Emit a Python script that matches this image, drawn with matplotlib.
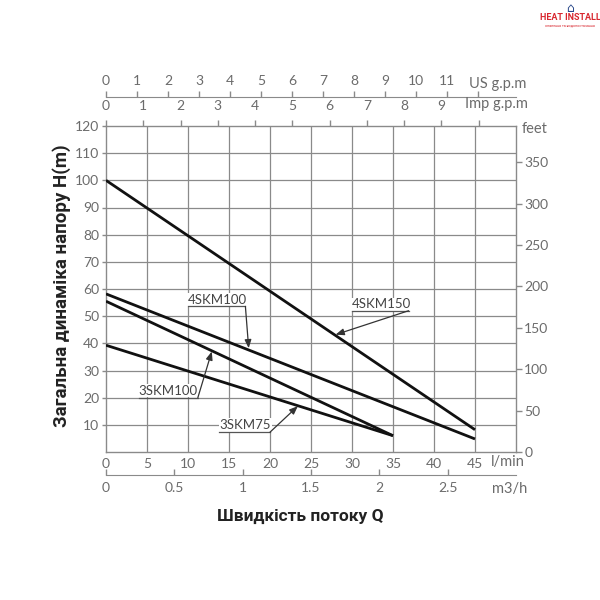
import matplotlib
matplotlib.use("Agg")
import matplotlib.pyplot as plt
import numpy as np

# ---- data ----
flow_4skm150 = [0, 45]
head_4skm150 = [100, 8.2]
flow_4skm100 = [0, 45]
head_4skm100 = [58.2, 4.8]
flow_3skm100 = [0, 35]
head_3skm100 = [55.5, 6.0]
flow_3skm75 = [0, 35]
head_3skm75 = [39.3, 6.0]

lpm_ticks = [0, 5, 10, 15, 20, 25, 30, 35, 40, 45]
head_ticks = [10, 20, 30, 40, 50, 60, 70, 80, 90, 100, 110, 120]
feet_ticks = [0, 50, 100, 150, 200, 250, 300, 350]
us_ticks = list(range(0, 13))
us_labels = [str(i) for i in range(0, 12)] + [""]
imp_ticks = list(range(0, 11))
imp_labels = [str(i) for i in range(0, 10)] + [""]
m3h_ticks = [0, 0.5, 1, 1.5, 2, 2.5]
m3h_labels = ["0", "0.5", "1", "1.5", "2", "2.5"]

US_GAL = 3.785
IMP_GAL = 4.546
M3H = 1000 / 60.0
FT = 3.281

TICK_COLOR = "#6b6b6b"
GRID_COLOR = "#8a8a8a"
tfont = dict(family=["Lato", "DejaVu Sans"], size=10, color=TICK_COLOR)

fig = plt.figure(figsize=(6, 6), dpi=100)
L, R, B, T = 106 / 600, 516 / 600, 1 - 452 / 600, 1 - 126 / 600
ax = fig.add_axes([L, B, R - L, T - B])
ax.set_xlim(0, 50)
ax.set_ylim(0, 120)

for s in ax.spines.values():
    s.set_color(GRID_COLOR)
    s.set_linewidth(1.0)

ax.set_xticks(lpm_ticks)
ax.set_xticklabels([str(v) for v in lpm_ticks], **tfont)
ax.tick_params(axis="x", length=0, pad=4)
ax.set_yticks(head_ticks)
ax.set_yticklabels([str(v) for v in head_ticks], **tfont)
ax.tick_params(axis="y", length=3, width=1, color=GRID_COLOR, pad=2)

for v in range(5, 50, 5):
    ax.axvline(v, color=GRID_COLOR, lw=0.9, zorder=1)
for v in range(10, 120, 10):
    ax.axhline(v, color=GRID_COLOR, lw=0.9, zorder=1)

lw = 2.0
ax.plot(flow_4skm150, head_4skm150, color="#111111", lw=lw, zorder=3, solid_capstyle="butt")
ax.plot(flow_4skm100, head_4skm100, color="#111111", lw=lw, zorder=3, solid_capstyle="butt")
ax.plot(flow_3skm100, head_3skm100, color="#111111", lw=lw, zorder=3, solid_capstyle="butt")
ax.plot(flow_3skm75, head_3skm75, color="#111111", lw=lw, zorder=3, solid_capstyle="butt")

# ---- labels with leader lines ----
def label(name, text_xy, ul_x0, ul_x1, ul_y, tip):
    ax.text(text_xy[0], text_xy[1], name, ha="center", va="center",
            family=["Lato", "DejaVu Sans"], fontsize=9.5, color="#444444", zorder=5,
            bbox=dict(facecolor="white", edgecolor="none", pad=0.5))
    ax.plot([ul_x0, ul_x1], [ul_y, ul_y], color="#555555", lw=0.9, zorder=5)
    ax.annotate("", xy=tip, xytext=(ul_x1, ul_y),
                arrowprops=dict(arrowstyle="-|>,head_length=0.5,head_width=0.2",
                                color="#333333", lw=0.9, shrinkA=0, shrinkB=0), zorder=5)

label("4SKM100", (13.6, 56.0), 10.0, 17.0, 53.6, (17.4, 38.2))
label("4SKM150", (33.6, 54.4), 30.0, 36.9, 52.0, (28.0, 43.2))
label("3SKM100", (7.6, 22.6), 4.0, 11.2, 20.0, (12.9, 37.0))
label("3SKM75", (17.0, 9.9), 13.8, 20.0, 7.3, (23.4, 16.9))

# ---- right feet axis ----
axr = ax.twinx()
axr.set_ylim(0, 120 * FT)
axr.set_yticks(feet_ticks)
axr.set_yticklabels([str(v) for v in feet_ticks], **tfont)
axr.tick_params(axis="y", length=4, width=1, color=GRID_COLOR, pad=2)
for s in axr.spines.values():
    s.set_visible(False)

# ---- Imp g.p.m (top spine) ----
sec_imp = ax.secondary_xaxis("top", functions=(lambda x: x / IMP_GAL, lambda x: x * IMP_GAL))
sec_imp.set_xticks(imp_ticks)
sec_imp.set_xticklabels(imp_labels, **tfont)
sec_imp.tick_params(axis="x", length=4, width=1, color=GRID_COLOR, pad=6)
sec_imp.spines["top"].set_visible(False)

# ---- US g.p.m ----
pos_us = ((1 - 97 / 600) - B) / (T - B)
sec_us = ax.secondary_xaxis(pos_us, functions=(lambda x: x / US_GAL, lambda x: x * US_GAL))
sec_us.set_xticks(us_ticks)
sec_us.set_xticklabels(us_labels, **tfont)
sec_us.tick_params(axis="x", length=4, width=1, color=GRID_COLOR, pad=3)
sec_us.spines["top"].set_color(GRID_COLOR)

# ---- m3/h ----
pos_m3 = ((1 - 475 / 600) - B) / (T - B)
sec_m3 = ax.secondary_xaxis(pos_m3, functions=(lambda x: x / M3H, lambda x: x * M3H))
sec_m3.set_xticks(m3h_ticks)
sec_m3.set_xticklabels(m3h_labels, **tfont)
sec_m3.tick_params(axis="x", direction="in", length=4, width=1, color=GRID_COLOR, pad=5)
sec_m3.spines["bottom"].set_color(GRID_COLOR)

# unit labels
ufont = dict(family=["Lato", "DejaVu Sans"], size=10.5, color=TICK_COLOR)
fig.text(469 / 600, 1 - 84 / 600, "US g.p.m", ha="left", va="center", **ufont)
fig.text(465 / 600, 1 - 104 / 600, "Imp g.p.m", ha="left", va="center", **ufont)
fig.text(522 / 600, 1 - 129 / 600, "feet", ha="left", va="center", **ufont)
fig.text(491 / 600, 1 - 462 / 600, "l/min", ha="left", va="center", **ufont)
fig.text(492 / 600, 1 - 489 / 600, "m3/h", ha="left", va="center", **ufont)

# titles
fig.text(300 / 600, 1 - 516 / 600, "Швидкість потоку Q", ha="center", va="center",
         family=["Roboto", "DejaVu Sans"], fontsize=12.5, fontweight="bold", color="#222222")
fig.text(62 / 600, 1 - 286 / 600, "Загальна динаміка напору H(m)", ha="center", va="center",
         rotation=90, family=["Roboto", "DejaVu Sans"], fontsize=13.5, fontweight="bold",
         color="#222222")

# logo
fig.text(570 / 600, 1 - 18 / 600, "HEAT INSTALL", ha="center", va="center",
         family=["Roboto", "DejaVu Sans"], fontsize=6.5, fontweight="bold", color="#d8262e")
fig.text(570 / 600, 1 - 25 / 600, "опалення та водопостачання", ha="center", va="center",
         family=["Roboto", "DejaVu Sans"], fontsize=2.6, color="#d8262e")
fig.text(570 / 600, 1 - 8 / 600, "⌂", ha="center", va="center",
         family=["DejaVu Sans"], fontsize=9, color="#2b4a8b")

fig.savefig("out.png", dpi=100, facecolor="white")
